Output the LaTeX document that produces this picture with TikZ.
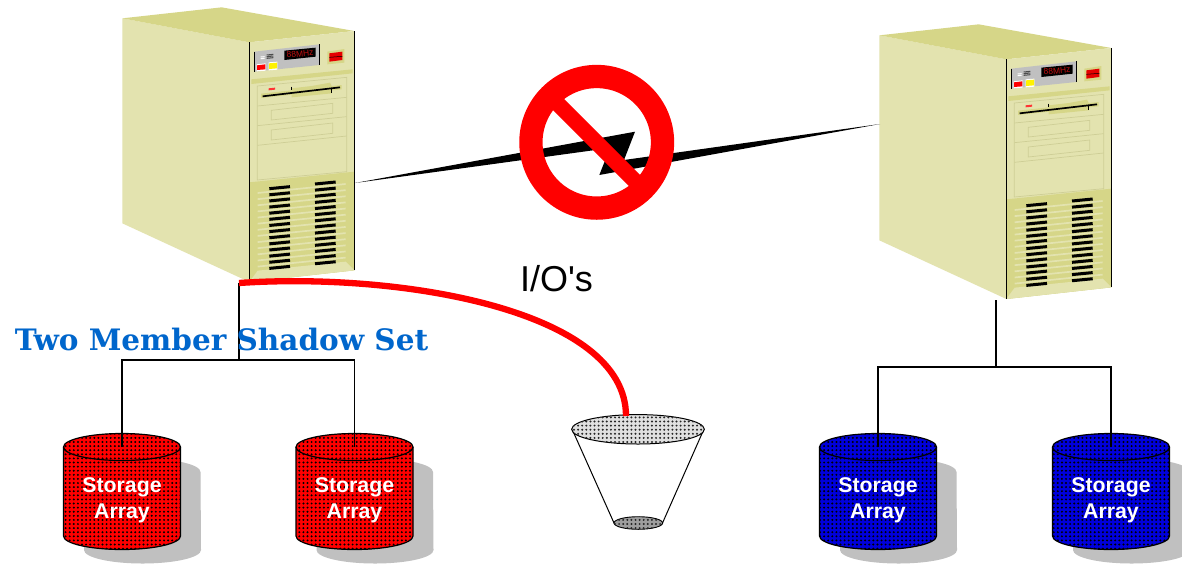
\documentclass[tikz,border=0pt]{standalone}
\usepackage{fontspec}
\setmainfont{Liberation Sans}
\newfontfamily\titlefont{DejaVu Serif}
\usetikzlibrary{patterns.meta}
\definecolor{towerlight}{HTML}{E3E3AF}
\definecolor{towerdark}{HTML}{D6D688}
\definecolor{towerline}{HTML}{CECE96}
\definecolor{panelgrey}{HTML}{C0C0C0}
\definecolor{titleblue}{HTML}{0066CC}
\definecolor{ledred}{HTML}{C01010}
\definecolor{diskblue}{HTML}{0000DD}
\tikzset{
  wire/.style={black,line width=1.1pt},
  storelabel/.style={text=white,font=\bfseries\fontsize{21.3}{26}\selectfont,align=center,inner sep=0pt},
  bayline/.style={towerline,line width=0.7pt},
  dotgrid/.style={pattern={Dots[distance=4.1pt,radius=1.1pt]},pattern color=#1},
  cyl/.pic={
    \fill[panelgrey] (-38,25) -- (-38,103) arc[start angle=180,end angle=0,x radius=58.5,y radius=13.5] -- (78.5,25) arc[start angle=0,end angle=-180,x radius=58.5,y radius=13.5] -- cycle;
    \fill[#1] (-58.5,0) -- (-58.5,89) arc[start angle=180,end angle=0,x radius=58.5,y radius=13.5] -- (58.5,0) arc[start angle=0,end angle=-180,x radius=58.5,y radius=13.5] -- cycle;
    \path[dotgrid=black] (-58.5,0) -- (-58.5,89) arc[start angle=180,end angle=0,x radius=58.5,y radius=13.5] -- (58.5,0) arc[start angle=0,end angle=-180,x radius=58.5,y radius=13.5] -- cycle;
    \draw[black,line width=1.2pt] (-58.5,0) -- (-58.5,89) arc[start angle=180,end angle=0,x radius=58.5,y radius=13.5] -- (58.5,0) arc[start angle=0,end angle=-180,x radius=58.5,y radius=13.5] -- cycle;
    \draw[black,line width=1.2pt] (-58.5,0) arc[start angle=180,end angle=0,x radius=58.5,y radius=13.5];
  },
  tower/.pic={
    \fill[towerlight] (37,55) -- (418,127) -- (418,846) -- (37,670) -- cycle;
    \fill[towerdark] (37,55) -- (335,22) -- (733,93) -- (418,127) -- cycle;
    \fill[towerlight] (418,127) -- (733,93) -- (733,811) -- (418,846) -- cycle;
    % control panel
    \fill[panelgrey] (433,155) -- (628,133) -- (628,195) -- (433,215) -- cycle;
    \draw[black,line width=0.9pt] (433,155) -- (433,215) (628,133) -- (628,195);
    \fill[black] (523,152) -- (617,143) -- (617,170) -- (523,180) -- cycle;
    \node[rotate=5,text=ledred,inner sep=0pt,font=\fontsize{8.5}{9}\selectfont] (led) at (570,161.5) {88MHz};
    \fill[white] (440,193) -- (467,190) -- (467,212) -- (440,214) -- cycle;
    \fill[red] (441,196) -- (466,193) -- (466,208) -- (441,210) -- cycle;
    \fill[white] (476,187) -- (502,185) -- (502,209) -- (476,211) -- cycle;
    \fill[yellow] (477,190) -- (501,188) -- (501,205) -- (477,207) -- cycle;
    \draw[white,line width=1pt] (452,171) -- (464,170);
    \draw[white,line width=1pt] (452,176) -- (464,175);
    \draw[black!70,line width=1pt] (470,165) -- (490,163) (470,170) -- (490,168) (470,175) -- (490,173);
    % switch
    \fill[towerdark] (652,155) -- (703,147) -- (703,188) -- (652,193) -- cycle;
    \fill[red!90!black] (658,160) -- (697,155) -- (697,180) -- (658,185) -- cycle;
    \draw[black,line width=0.5pt] (658,172) -- (697,169);
    % band
    \fill[towerdark] (424,238) -- (728,208) -- (728,220) -- (424,252) -- cycle;
    % drive bay
    \draw[bayline] (442,258) -- (710,232) -- (710,515) -- (442,540) -- cycle;
    \draw[bayline] (442,318) -- (710,292) (442,377) -- (710,350) (442,436) -- (710,408);
    \draw[bayline] (484,331) -- (668,310) -- (668,340) -- (484,360) -- cycle;
    \draw[bayline] (484,390) -- (668,369) -- (668,400) -- (484,420) -- cycle;
    \fill[towerdark] (453,281) -- (695,255) -- (695,268) -- (453,294) -- cycle;
    \fill[towerdark] (545,265) -- (605,258) -- (660,248) -- (665,258) -- (665,280) -- (545,292) -- cycle;
    \draw[black,line width=1.7pt] (458,289) -- (690,262);
    \draw[black,line width=0.7pt] (545,260) -- (545,270) (665,268) -- (665,279);
    \fill[red!80!white] (476,265) -- (495,263) -- (495,269) -- (476,271) -- cycle;
    % lower grille
    \fill[towerdark] (418,547) -- (733,515) -- (733,811) -- (418,846) -- cycle;
    \fill[towerlight] (418,846) -- (443,812) -- (707,785) -- (733,811) -- cycle;
    \foreach \i in {0,...,12} {
      \draw[towerlight,line width=1.7pt] (443,{579+18.4*\i}) -- (707,{552+18.4*\i});
    }
    \foreach \i in {0,...,13} {
      \draw[black,line width=3pt] (478,{566+18.4*\i}) -- (540,{560+18.4*\i});
      \draw[black,line width=3pt] (615,{552+18.4*\i}) -- (677,{546+18.4*\i});
    }
    \draw[black,line width=1.2pt] (418,127) -- (418,846) (733,93) -- (733,811);
  }
}
\begin{document}
\begin{tikzpicture}[x=1pt,y=-1pt]
\useasboundingbox (0,0) rectangle (1182,565);
\fill[white] (0,0) rectangle (1182,565);

% named connection points
\coordinate (srvLb) at (239,283);
\coordinate (forkL) at (239,360);
\coordinate (srvRb) at (996,300);
\coordinate (forkR) at (996,367);
\coordinate (d1) at (122,447);
\coordinate (d2) at (354.5,447);
\coordinate (d3) at (878,447);
\coordinate (d4) at (1111,447);
\coordinate (funnelTop) at (626,416);
\coordinate (linkL) at (355,183);
\coordinate (linkR) at (880,124);

% towers
\pic[shift={(110,0)},scale=1/3] {tower};
\pic[shift={(867,17)},scale=1/3] {tower};

% lightning link
\fill[black] (linkL) -- (635,131.7) -- (624,160) -- (linkR) -- (599.3,175) -- (610,148) -- cycle;

% storage
\pic at (d1) {cyl=red};
\pic at (d2) {cyl=red};
\pic at (d3) {cyl=diskblue};
\pic at (d4) {cyl=diskblue};
\node[storelabel] (s1) at (122,500) {Storage\\Array};
\node[storelabel] (s2) at (354.5,500) {Storage\\Array};
\node[storelabel] (s3) at (878,500) {Storage\\Array};
\node[storelabel] (s4) at (1111,500) {Storage\\Array};

% wiring
\draw[wire] (srvLb) -- (forkL);
\draw[wire] (srvRb) -- (forkR);
\draw[wire] (d1) |- (forkL) -| (d2);
\draw[wire] (d3) |- (forkR) -| (d4);

% funnel
\path[fill=white,draw=black,line width=1pt] (572,429) -- (614,523) -- (662.5,523) -- (704,429) -- cycle;
\draw[fill=black!38,line width=0.9pt] (638.3,523) ellipse[x radius=24.3,y radius=6.3];
\path[dotgrid=black!85] (638.3,523) ellipse[x radius=24.3,y radius=6.3];
\draw[fill=black!12,line width=1pt] (638,429.3) ellipse[x radius=66.3,y radius=14.7];
\path[dotgrid=black!85] (638,429.3) ellipse[x radius=66.3,y radius=14.7];

% red I/O cable
\draw[red,line width=6.3pt] (srvLb) .. controls (400,272) and (626,310) .. (funnelTop);

% prohibition sign
\coordinate (no) at (596.7,142.3);
\draw[red,line width=23.3pt] (no) circle[radius=65.8];
\draw[red,line width=15.8pt] (553,99) -- (640,186);

% labels
\node[inner sep=0pt,font=\fontsize{36}{40}\selectfont] (io) at (556.5,279) {I/O\textquotesingle s};
\node[inner sep=0pt,text=titleblue,font=\titlefont\bfseries\fontsize{29.5}{32}\selectfont] (title) at (221.5,339) {Two Member Shadow Set};
\end{tikzpicture}
\end{document}
